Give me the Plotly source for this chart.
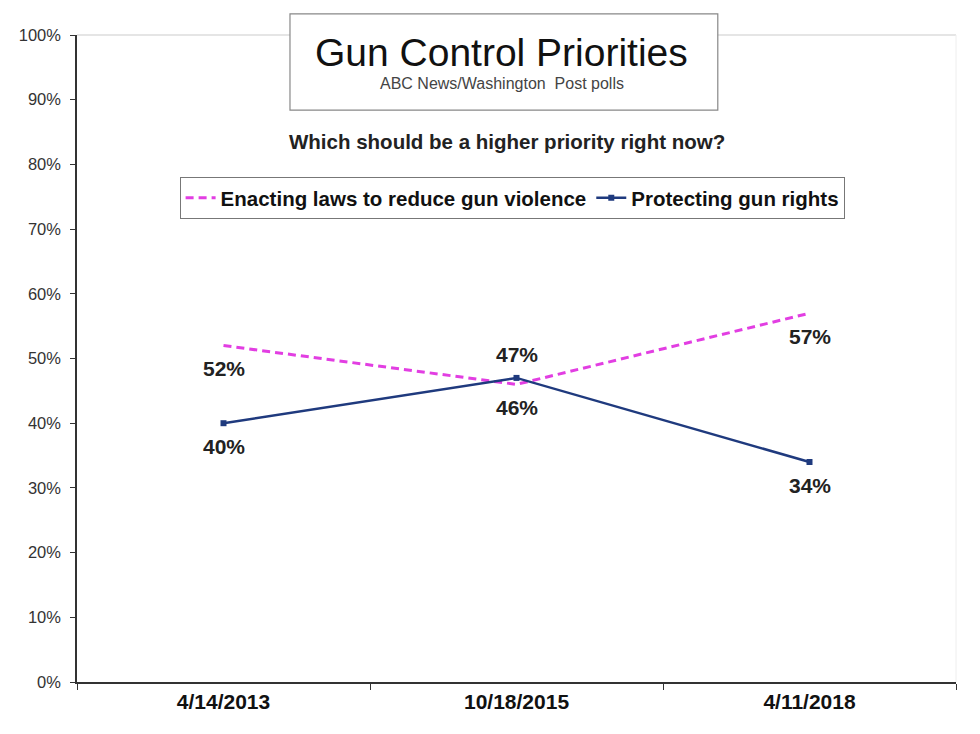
import plotly.graph_objects as go

dates = ["4/14/2013", "10/18/2015", "4/11/2018"]
enacting_laws = [52, 46, 57]
protecting_rights = [40, 47, 34]
enact_label_pos = [-1, -1, -1]
protect_label_pos = [-1, 1, -1]
y_ticks = [0, 10, 20, 30, 40, 50, 60, 70, 80, 90, 100]

PINK = "#e23ee2"
NAVY = "#1f3a7e"
FONT = "Liberation Sans, Arial, sans-serif"

fig = go.Figure()
fig.add_trace(go.Scatter(
    x=dates, y=enacting_laws, mode="lines",
    name="Enacting laws to reduce gun violence",
    line=dict(color=PINK, width=3, dash="8px,5px"),
))
fig.add_trace(go.Scatter(
    x=dates, y=protecting_rights, mode="lines+markers",
    name="Protecting gun rights",
    line=dict(color=NAVY, width=2.5),
    marker=dict(color=NAVY, size=6, symbol="square"),
))

annotations = []
for series, pos in ((enacting_laws, enact_label_pos), (protecting_rights, protect_label_pos)):
    for d, v, p in zip(dates, series, pos):
        annotations.append(dict(
            x=d, y=v, xref="x", yref="y", text=f"<b>{v}%</b>", showarrow=False,
            yshift=23 * p, yanchor="middle",
            font=dict(family=FONT, size=21, color="#222222"),
        ))

# title box texts
annotations.append(dict(x=0.4835, y=(682 - 52) / 647, xref="paper", yref="paper",
                        yanchor="middle", text="Gun Control Priorities", showarrow=False,
                        font=dict(family=FONT, size=39, color="#111111")))
annotations.append(dict(x=0.4835, y=(682 - 84) / 647, xref="paper", yref="paper",
                        yanchor="middle", text="ABC News/Washington  Post polls", showarrow=False,
                        font=dict(family=FONT, size=16, color="#444444")))
annotations.append(dict(x=0.489, y=(682 - 141) / 647, xref="paper", yref="paper",
                        yanchor="middle",
                        text="<b>Which should be a higher priority right now?</b>", showarrow=False,
                        font=dict(family=FONT, size=20.5, color="#222222")))

fig.update_layout(
    width=980, height=734,
    margin=dict(l=69, r=32, t=27, b=60),
    paper_bgcolor="white", plot_bgcolor="white",
    annotations=annotations,
    shapes=[
        dict(type="line", xref="paper", yref="paper", x0=0, x1=1, y0=1, y1=1,
             line=dict(color="#cccccc", width=1.2), layer="below"),
        dict(type="line", xref="paper", yref="paper", x0=1, x1=1, y0=0, y1=1,
             line=dict(color="#eeeeee", width=1), layer="below"),
        dict(type="rect", xref="paper", yref="paper",
             x0=0.2423, x1=0.729, y0=0.884, y1=1.0325,
             line=dict(color="#888888", width=1.2), fillcolor="white", layer="below"),
    ],
    legend=dict(
        orientation="h", x=0.495, xanchor="center", y=(682 - 198) / 647, yanchor="middle",
        bordercolor="#777777", borderwidth=1, bgcolor="white",
        font=dict(family=FONT, size=20.5, color="#111111", weight="bold"),
        traceorder="normal",
    ),
    showlegend=True,
)
fig.update_xaxes(
    type="category", range=[-0.5, 2.5], tickson="boundaries",
    ticks="outside", ticklen=6, tickcolor="#333333",
    showline=True, linecolor="#333333", linewidth=1.5,
    showgrid=False, zeroline=False,
    tickfont=dict(family=FONT, size=21, color="#111111", weight="bold"),
)
fig.update_yaxes(
    range=[0, 100], tickvals=y_ticks, ticktext=[f"{t}%" for t in y_ticks],
    ticks="outside", ticklen=5, tickcolor="#333333",
    showline=True, linecolor="#333333", linewidth=1.5,
    showgrid=False, zeroline=False, ticklabelstandoff=6,
    tickfont=dict(family=FONT, size=16.5, color="#333333"),
)

fig.write_html("out.html")
